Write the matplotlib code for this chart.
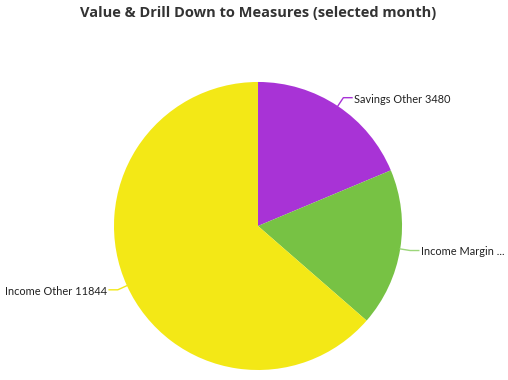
import numpy as np
import matplotlib
matplotlib.use('Agg')
from matplotlib import pyplot as plt

plt.rcParams['font.family'] = ['Lato', 'DejaVu Sans']

# data
labels = ['Savings Other 3480', 'Income Margin ...', 'Income Other 11844']
values = [3480, 3300, 11844]
colors = ['#A833D6', '#77C244', '#F3E816']
line_colors = ['#A833D6', '#9CD67A', '#F3E816']

fig = plt.figure(figsize=(5.08, 3.80), dpi=100)
fig.text(0.508, 0.965, 'Value & Drill Down to Measures (selected month)',
         ha='center', va='center', fontsize=10.5, fontweight='bold', color='#333333',
         family=['Open Sans', 'DejaVu Sans'])

ax = fig.add_axes([0.2244, 0.0263, 0.567, 0.758])
wedges, _ = ax.pie(values, colors=colors, startangle=90, counterclock=False,
                   wedgeprops=dict(linewidth=0))
ax.set_xlim(-1, 1)
ax.set_ylim(-1, 1)
ax.set_aspect('equal')
ax.axis('off')

# leader lines + labels
for w, lab, lc in zip(wedges, labels, line_colors):
    mid = np.deg2rad((w.theta1 + w.theta2) / 2)
    x0, y0 = np.cos(mid), np.sin(mid)
    x1, y1 = 1.07 * x0, 1.07 * y0
    side = 1 if x0 >= 0 else -1
    x2 = x1 + side * 0.06
    ax.plot([x0, x1, x2], [y0, y1, y1], color=lc, lw=1, clip_on=False)
    ax.text(x2 + side * 0.012, y1 - 0.01, lab, ha='left' if side > 0 else 'right',
            va='center', fontsize=7.9, color='#222222', clip_on=False)

plt.savefig('out.png', dpi=100)
